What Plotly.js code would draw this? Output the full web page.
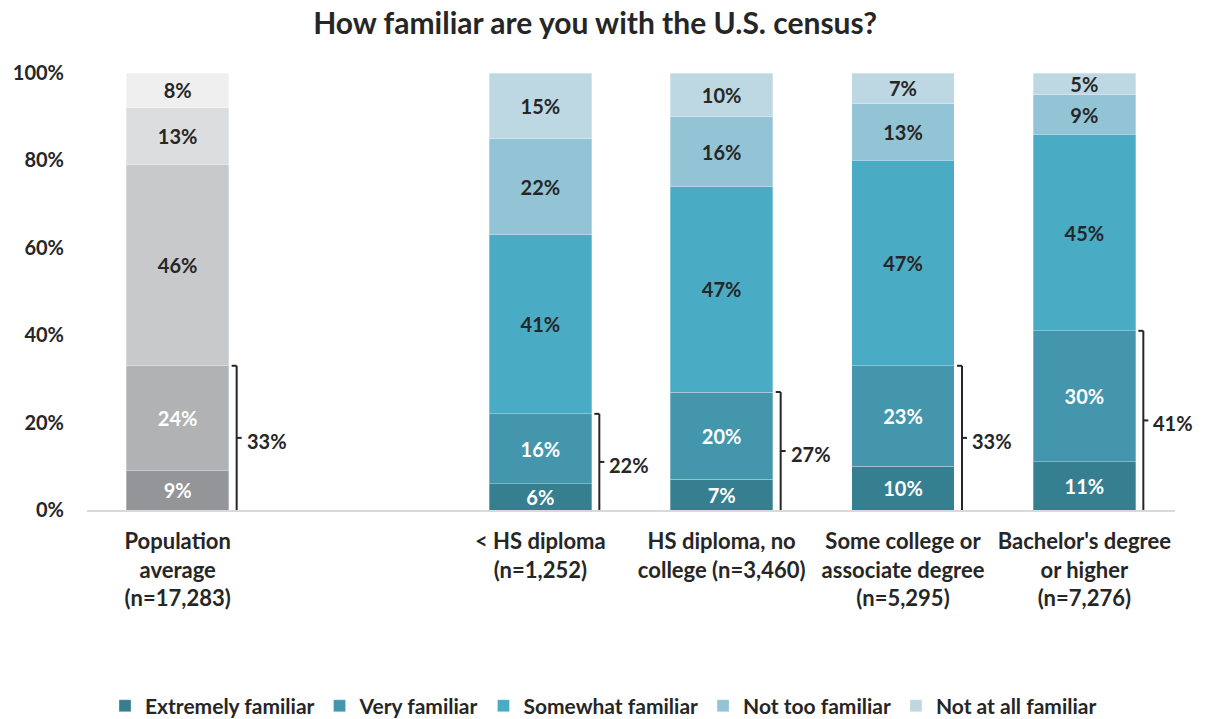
<!DOCTYPE html>
<html>
<head>
<meta charset="utf-8">
<script src="https://cdn.plot.ly/plotly-3.0.1.min.js"></script>
<style>html,body{margin:0;padding:0;background:#fff;}#chart{width:1207px;height:719px;}</style>
</head>
<body>
<div id="chart"></div>
<script>
// ---- data ----
const categories = [
  "Population<br>average<br>(n=17,283)",
  " ",
  "&lt; HS diploma<br>(n=1,252)",
  "HS diploma, no<br>college (n=3,460)",
  "Some college or<br>associate degree<br>(n=5,295)",
  "Bachelor's degree<br>or higher<br>(n=7,276)"
];
const levels = ["Extremely familiar", "Very familiar", "Somewhat familiar", "Not too familiar", "Not at all familiar"];
const populationCategory = categories[0];
const populationValues = [9, 24, 46, 13, 8];
const educationCategories = [categories[2], categories[3], categories[4], categories[5]];
const extremely = [6, 7, 10, 11];
const very = [16, 20, 23, 30];
const somewhat = [41, 47, 47, 45];
const notToo = [22, 16, 13, 9];
const notAtAll = [15, 10, 7, 5];
const educationValues = [extremely, very, somewhat, notToo, notAtAll];
const yTickValues = [0, 20, 40, 60, 80, 100];
const yTickLabels = ["0%", "20%", "40%", "60%", "80%", "100%"];

// ---- styles ----
const grayColors = ["#939598", "#b1b2b4", "#c8c9cb", "#dcddde", "#efefef"];
const tealColors = ["#357f91", "#4396ab", "#4aabc5", "#93c4d5", "#bdd7e3"];
const labelColors = ["#ffffff", "#ffffff", "#262626", "#262626", "#262626"];
const FONT = "Lato, 'Open Sans', sans-serif";
const TXT = "#262626";

const traces = [];
levels.forEach((lv, i) => {
  traces.push({
    type: "bar", x: [populationCategory], y: [populationValues[i]],
    name: lv, showlegend: false, legendgroup: lv,
    marker: {color: grayColors[i], line: {width: 0.6, color: "rgba(255,255,255,0.5)"}},
    text: [populationValues[i] + "%"], textposition: "inside", insidetextanchor: "middle",
    constraintext: "none", textangle: 0,
    textfont: {family: FONT, size: 20, color: labelColors[i], weight: 700},
    hoverinfo: "skip", width: 0.565
  });
});
levels.forEach((lv, i) => {
  traces.push({
    type: "bar", x: educationCategories, y: educationValues[i],
    name: lv, legendgroup: lv,
    marker: {color: tealColors[i], line: {width: 0.6, color: "rgba(255,255,255,0.5)"}},
    text: educationValues[i].map(v => v + "%"), textposition: "inside", insidetextanchor: "middle",
    constraintext: "none", textangle: 0,
    textfont: {family: FONT, size: 20, color: labelColors[i], weight: 700},
    hoverinfo: "skip", width: 0.565
  });
});

// brackets: extremely + very
const shapes = [];
const annotations = [];
const bracketItems = [{cat: populationCategory, total: populationValues[0] + populationValues[1]}];
educationCategories.forEach((c, k) => bracketItems.push({cat: c, total: extremely[k] + very[k]}));
const lineStyle = {color: "#262626", width: 2};
bracketItems.forEach(b => {
  const xi = categories.indexOf(b.cat);
  const base = {type: "line", xref: "x", yref: "y", xsizemode: "pixel", xanchor: xi, line: lineStyle};
  shapes.push(Object.assign({}, base, {x0: 59, x1: 59, y0: -0.3, y1: b.total}));
  shapes.push(Object.assign({}, base, {x0: 54, x1: 59, y0: b.total, y1: b.total}));
  shapes.push(Object.assign({}, base, {x0: 54, x1: 59, y0: -0.3, y1: -0.3}));
  shapes.push(Object.assign({}, base, {x0: 59, x1: 64, y0: b.total / 2, y1: b.total / 2}));
  annotations.push({
    x: xi, y: b.total / 2, xref: "x", yref: "y", xanchor: "left", yanchor: "middle",
    xshift: 67, yshift: -3, showarrow: false, text: b.total + "%",
    font: {family: FONT, size: 20, color: TXT, weight: 700}
  });
});

const layout = {
  width: 1207, height: 719,
  margin: {l: 87, r: 32, t: 73, b: 209},
  paper_bgcolor: "#ffffff", plot_bgcolor: "#ffffff",
  font: {family: FONT, color: TXT},
  title: {text: "How familiar are you with the U.S. census?", x: 0.493, xref: "container", xanchor: "center",
          y: 0.968, yref: "container", yanchor: "middle",
          font: {family: FONT, size: 30, color: TXT, weight: 700}},
  barmode: "stack", bargap: 0.435,
  xaxis: {type: "category", categoryorder: "array", categoryarray: categories,
          range: [-0.5, 5.5], showline: true, linecolor: "#d9d9d9", linewidth: 1.5,
          ticks: "", showgrid: false, zeroline: false, ticklabelstandoff: 11,
          tickfont: {family: FONT, size: 22, color: TXT, weight: 700}, fixedrange: true},
  yaxis: {range: [0, 100], tickmode: "array", tickvals: yTickValues, ticktext: yTickLabels,
          showgrid: false, zeroline: false, showline: false, ticks: "",
          ticklabelstandoff: 22,
          tickfont: {family: FONT, size: 20, color: TXT, weight: 700}, fixedrange: true},
  legend: {orientation: "h", xref: "container", yref: "container", x: 0.5, xanchor: "center",
           y: 0.018, yanchor: "middle", traceorder: "normal", itemwidth: 30,
           font: {family: FONT, size: 21, color: TXT, weight: 700}},
  shapes: shapes,
  annotations: annotations,
  showlegend: true
};

Plotly.newPlot("chart", traces, layout, {displayModeBar: false, staticPlot: true});
</script>
</body>
</html>
